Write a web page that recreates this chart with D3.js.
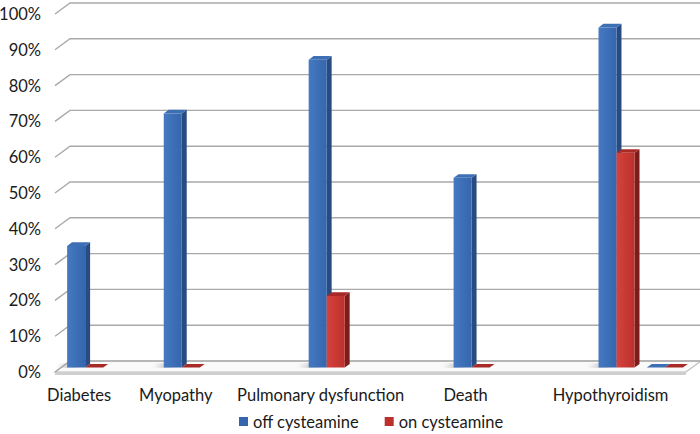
<!DOCTYPE html>
<html>
<head>
<meta charset="utf-8">
<title>cysteamine</title>
<script src="https://d3js.org/d3.v7.min.js"></script>
<style>
  body { margin: 0; background: #fff; }
  svg { display: block; font-family: Lato, "Open Sans", sans-serif; }
  .tick-label { font-size: 16.5px; fill: #1a1a1a; }
  .legend-label { font-size: 16.5px; fill: #1a1a1a; }
</style>
</head>
<body>
<script>

// data (13 slots, most of them blank)
var categories = ["Diabetes", "", "Myopathy", "", "", "Pulmonary dysfunction", "", "", "Death", "", "", "Hypothyroidism", ""];
var offValues  = [0.34, null, 0.71, null, null, 0.86, null, null, 0.53, null, null, 0.95, 0];
var onValues   = [0,    null, 0,    null, null, 0.20, null, null, 0,    null, null, 0.60, 0];
var seriesNames = ["off cysteamine", "on cysteamine"];
var yTickValues = [0, 0.1, 0.2, 0.3, 0.4, 0.5, 0.6, 0.7, 0.8, 0.9, 1.0];

var width = 700,
    height = 434,
    depthX = 15,   // how far the back wall sits from the front plane
    depthY = -11,
    barFront = 0.4,  // bar depth, as a share of the floor depth
    barBack = 0.73;

var svg = d3.select("body").append("svg")
    .attr("width", width)
    .attr("height", height);

var x = d3.scaleBand()
    .domain(d3.range(categories.length))
    .range([55, 683]);

var x1 = d3.scaleBand()
    .domain(seriesNames)
    .range([0, x.bandwidth()])
    .paddingOuter(0.34);

var y = d3.scaleLinear()
    .domain([0, 1])
    .range([372, 14]);

var colors = {
  "off cysteamine": {front0: "#4579c2", front1: "#3566ad", side: "#284c82", top: "#3d6fb5"},
  "on cysteamine":  {front0: "#d6423c", front1: "#bb302c", side: "#7c1d1c", top: "#a82a27"}
};

function pt(px, py, t) { return [px + depthX * t, py + depthY * t]; }
function poly(points) { return "M" + points.map(function(p) { return p.join(","); }).join("L") + "Z"; }

var defs = svg.append("defs");
seriesNames.forEach(function(s, i) {
  var g = defs.append("linearGradient")
      .attr("id", "grad" + i)
      .attr("x1", 0).attr("x2", 1).attr("y1", 0).attr("y2", 0);
  g.append("stop").attr("offset", "0%").attr("stop-color", colors[s].front0);
  g.append("stop").attr("offset", "100%").attr("stop-color", colors[s].front1);
});
defs.append("filter").attr("id", "blur")
  .append("feGaussianBlur").attr("stdDeviation", 2.5);

// floor
var x0 = x.range()[0], xEnd = x.range()[1] + 3;
svg.append("path")
    .attr("d", poly([pt(x0, y(0), 0), pt(x0, y(0), 1), pt(xEnd, y(0), 1), pt(xEnd, y(0), 0)]))
    .attr("fill", "#fafafa")
    .attr("stroke", "#bdbdbd")
    .attr("stroke-width", 1.2);
svg.append("path")
    .attr("d", poly([pt(x0, y(0), 0), pt(xEnd, y(0), 0), pt(xEnd, y(0) + 3, 0), pt(x0, y(0) + 3, 0)]))
    .attr("fill", "#cfcfcf");

// gridlines: left diagonal + back wall
var grid = svg.append("g")
    .attr("fill", "none")
    .attr("stroke", "#a9a9a9")
    .attr("stroke-width", 1.4);

yTickValues.forEach(function(v) {
  var a = pt(x0, y(v), 0), b = pt(x0, y(v), 1), c = pt(width + 20, y(v), 1);
  grid.append("path").attr("d", "M" + a + "L" + b + "L" + c);
});

// soft shadows on the floor
var shadows = svg.append("g").attr("filter", "url(#blur)");
categories.forEach(function(c, i) {
  if (offValues[i] == null || offValues[i] + onValues[i] === 0) return;
  var l = x(i) + x1(seriesNames[0]) - 10;
  var r = x(i) + x1(seriesNames[0]);
  shadows.append("path")
      .attr("d", poly([pt(l, y(0), barFront), pt(l + 6, y(0), barBack), pt(r + 8, y(0), barBack), pt(r + 8, y(0), barFront)]))
      .attr("fill", "#a8a8a8");
});

// bars
var bars = [];
categories.forEach(function(c, i) {
  [offValues[i], onValues[i]].forEach(function(v, s) {
    if (v == null) return;
    bars.push({slot: i, series: seriesNames[s], idx: s, value: v});
  });
});

var barG = svg.append("g").selectAll("g")
  .data(bars)
  .enter().append("g");

barG.append("path")
    .attr("d", function(d) {
      var l = x(d.slot) + x1(d.series), r = l + x1.bandwidth();
      return poly([pt(r, y(d.value), barFront), pt(r, y(d.value), barBack), pt(r, y(0), barBack), pt(r, y(0), barFront)]);
    })
    .attr("fill", function(d) { return colors[d.series].side; });

barG.append("path")
    .attr("d", function(d) {
      var l = x(d.slot) + x1(d.series), r = l + x1.bandwidth();
      return poly([pt(l, y(d.value), barFront), pt(l, y(d.value), barBack), pt(r, y(d.value), barBack), pt(r, y(d.value), barFront)]);
    })
    .attr("fill", function(d) { return colors[d.series].top; });

barG.append("path")
    .attr("d", function(d) {
      var l = x(d.slot) + x1(d.series), r = l + x1.bandwidth();
      return poly([pt(l, y(d.value), barFront), pt(r, y(d.value), barFront), pt(r, y(0), barFront), pt(l, y(0), barFront)]);
    })
    .attr("fill", function(d) { return "url(#grad" + d.idx + ")"; });

// y tick labels
svg.append("g").selectAll("text")
  .data(yTickValues)
  .enter().append("text")
    .attr("class", "tick-label")
    .attr("x", 41)
    .attr("y", function(d) { return y(d); })
    .attr("dy", "0.36em")
    .attr("text-anchor", "end")
    .text(d3.format(".0%"));

// category labels
svg.append("g").selectAll("text")
  .data(categories)
  .enter().append("text")
    .attr("class", "tick-label")
    .attr("x", function(d, i) { return x(i) + x.bandwidth() / 2; })
    .attr("y", 401)
    .attr("text-anchor", "middle")
    .text(function(d) { return d; });

// legend
var legend = svg.append("g").attr("transform", "translate(239,0)");
var lx = 0;
seriesNames.forEach(function(s, i) {
  var item = legend.append("g").attr("transform", "translate(" + lx + ",0)");
  item.append("rect")
      .attr("y", 417)
      .attr("width", 9)
      .attr("height", 9)
      .attr("fill", colors[s].front1);
  var t = item.append("text")
      .attr("class", "legend-label")
      .attr("x", 14)
      .attr("y", 428)
      .text(s);
  lx += 14 + t.node().getComputedTextLength() + 26;
});

</script>
</body>
</html>
